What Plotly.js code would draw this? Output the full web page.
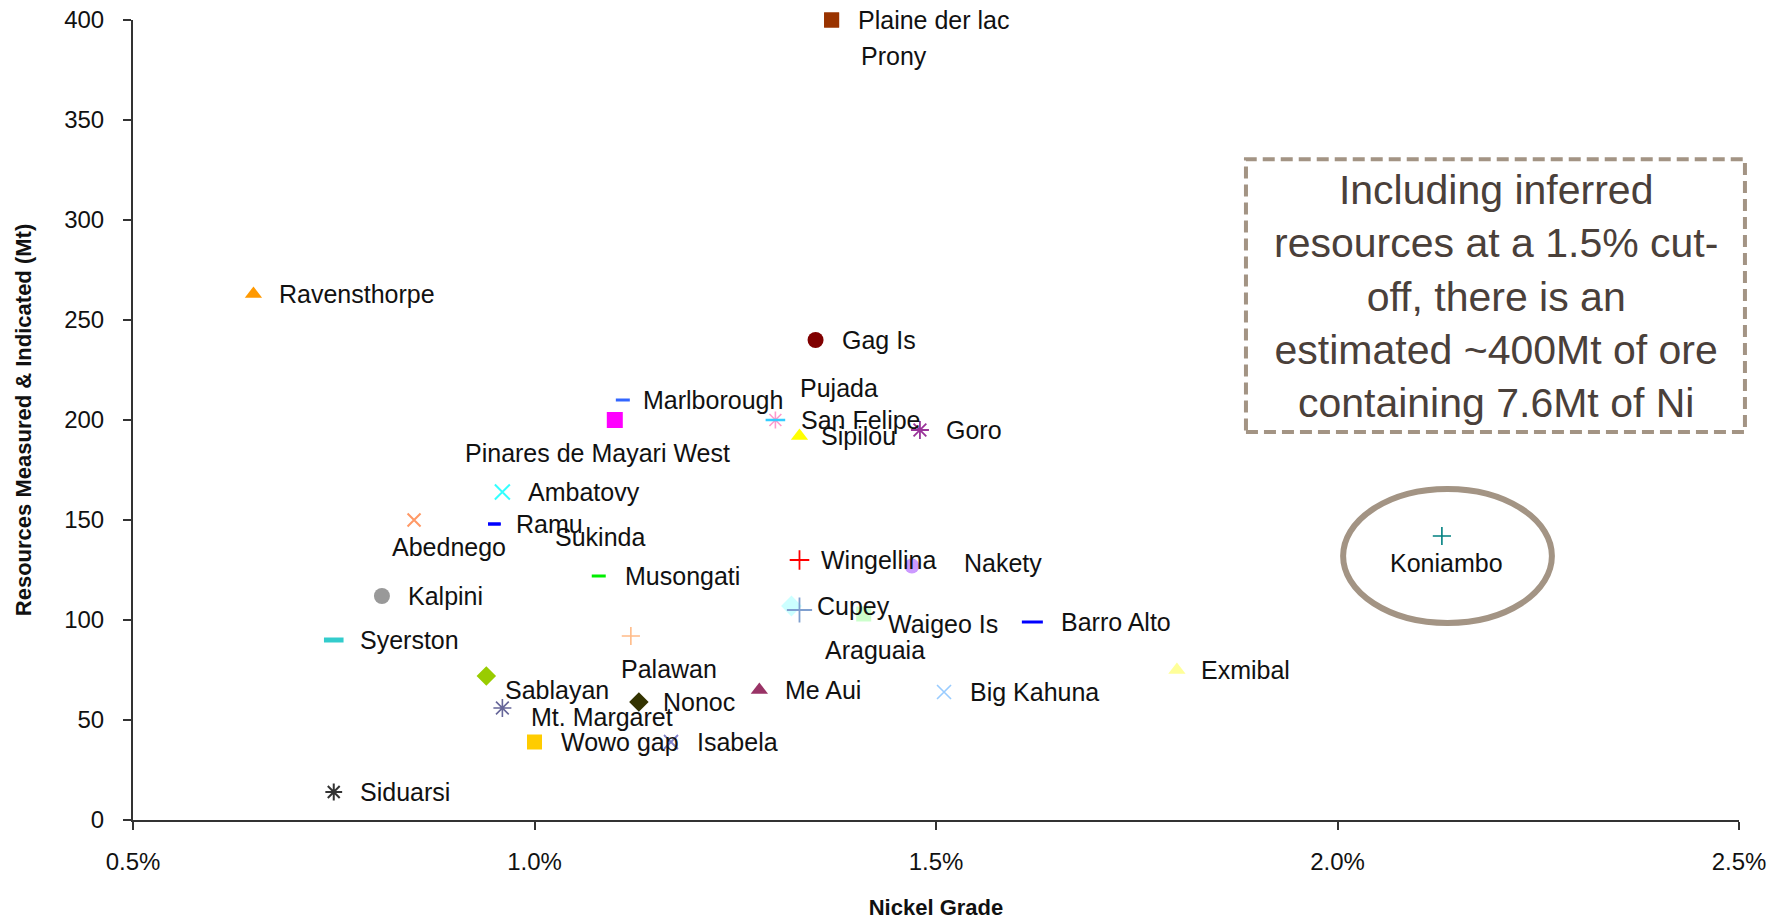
<!DOCTYPE html>
<html>
<head>
<meta charset="utf-8">
<script src="https://cdn.plot.ly/plotly-3.0.1.min.js"></script>
<style>html,body{margin:0;padding:0;background:#fff;}#chart{width:1785px;height:923px;}</style>
</head>
<body>
<div id="chart"></div>
<script>
// ---- data ----
const mines = ["Siduarsi","Syerston","Kalpini","Ravensthorpe","Abednego","Sablayan","Mt. Margaret","Ambatovy","Ramu","Sukinda","Wowo gap","Musongati","Pinares de Mayari West","Marlborough","Palawan","Nonoc","Isabela","Me Aui","San Felipe","Pujada","Cupey","Araguaia","Wingellina","Sipilou","Gag Is","Prony","Plaine der lac","Waigeo Is","Nakety","Goro","Big Kahuna","Barro Alto","Exmibal","Koniambo"];
const nickelGrade = [0.75,0.75,0.81,0.65,0.85,0.94,0.96,0.96,0.95,0.95,1.00,1.08,1.10,1.11,1.12,1.13,1.17,1.28,1.30,1.30,1.32,1.33,1.33,1.33,1.35,1.37,1.37,1.41,1.47,1.48,1.51,1.62,1.80,2.13];
const resourcesMt = [14,90,112,263,150,72,56,164,148,148,39,122,200,210,92,59,39,65,200,200,107,105,130,192,240,400,400,103,127,195,64,99,75,142];
const xTickValues = [0.5,1.0,1.5,2.0,2.5];
const xTickLabels = ["0.5%","1.0%","1.5%","2.0%","2.5%"];
const yTickValues = [0,50,100,150,200,250,300,350,400];
const noteText = "Including inferred<br>resources at a 1.5% cut-<br>off, there is an<br>estimated ~400Mt of ore<br>containing 7.6Mt of Ni";

// ---- styles (marker look and label offsets, in px) ----
const markerStyle = {
  "Siduarsi":["asterisk-open","#333333",14,2],
  "Syerston":["line-ew-open","#33CCCC",14,5],
  "Kalpini":["circle","#999999",16,0],
  "Ravensthorpe":["triangle-up","#FF9900",15,0],
  "Abednego":["x-thin-open","#FF9966",13,2],
  "Sablayan":["diamond","#99CC00",15,0],
  "Mt. Margaret":["asterisk-open","#666699",15,1.6],
  "Ambatovy":["x-thin-open","#33FFFF",15,2],
  "Ramu":["line-ew-open","#0000FF",9,3],
  "Sukinda":["line-ew-open","#0000FF",9,3],
  "Wowo gap":["square","#FFCC00",15,0],
  "Musongati":["line-ew-open","#00EE00",10,3],
  "Pinares de Mayari West":["square","#FF00FF",16,0],
  "Marlborough":["line-ew-open","#3366FF",10,3],
  "Palawan":["cross-thin-open","#FFBB88",13,1.6],
  "Nonoc":["diamond","#333300",15,0],
  "Isabela":["x-thin-open","#8080C8",14,1.8],
  "Me Aui":["triangle-up","#993366",15,0],
  "San Felipe":["asterisk-open","#FF99CC",14,1.6],
  "Pujada":["line-ew-open","#33CCFF",14,2.5],
  "Cupey":["diamond","#CCFFFF",16,0],
  "Araguaia":["cross-thin-open","#7F9FCF",18,1.8],
  "Wingellina":["cross-thin-open","#FF0000",14,1.8],
  "Sipilou":["triangle-up","#FFFF00",15,0],
  "Gag Is":["circle","#800000",16,0],
  "Prony":["square","#993300",15,0],
  "Plaine der lac":["square","#993300",15,0],
  "Waigeo Is":["square","#CCFFCC",15,0],
  "Nakety":["circle","#CC99FF",15,0],
  "Goro":["asterisk-open","#993399",15,1.8],
  "Big Kahuna":["x-thin-open","#99CCFF",14,1.6],
  "Barro Alto":["line-ew-open","#0000FF",15,3],
  "Exmibal":["triangle-up","#FFFF99",15,0],
  "Koniambo":["cross-thin-open","#008080",13,1.6]
};
// [anchor, dx, dy(down)]
const labelOffset = {
  "Prony":["left",27,36],
  "Pinares de Mayari West":["center",-17,33],
  "Pujada":["left",23,-32],
  "Abednego":["center",35,27],
  "Sukinda":["left",59,13],
  "Palawan":["center",38,33],
  "Nakety":["left",50,-3],
  "Araguaia":["center",76,40],
  "Waigeo Is":["left",22,10],
  "Koniambo":["center",5,27],
  "Sablayan":["left",17,14],
  "Mt. Margaret":["left",27,9],
  "Marlborough":["left",18,0],
  "Ramu":["left",20,0],
  "Sipilou":["left",20,0],
  "Wingellina":["left",20,0],
  "Barro Alto":["left",27,0],
  "Exmibal":["left",22,0],
  "Nonoc":["left",22,0]
};
const defaultOffset = ["left",24,0];
const labelFont = {family:"Liberation Sans, Arial, sans-serif", size:25, color:"#111111"};

const traces = [];
const annotations = [];
for (let i = 0; i < mines.length; i++) {
  const name = mines[i];
  const st = markerStyle[name];
  traces.push({
    type:"scatter", mode:"markers", name:name,
    x:[nickelGrade[i]], y:[resourcesMt[i]],
    cliponaxis:false, showlegend:false, hoverinfo:"name+x+y",
    marker:{symbol:st[0], color:st[1], size:st[2], line:{color:st[1], width:st[3]}}
  });
  const off = labelOffset[name] || defaultOffset;
  annotations.push({
    x:nickelGrade[i], y:resourcesMt[i], xref:"x", yref:"y",
    text:name, showarrow:false, xanchor:off[0], yanchor:"middle",
    xshift:off[1], yshift:-off[2], font:labelFont
  });
}
annotations.push({
  xref:"paper", yref:"paper", x:0.849, y:0.655, xanchor:"center", yanchor:"middle",
  text:noteText, showarrow:false, align:"center",
  font:{family:"Liberation Sans, Arial, sans-serif", size:41, color:"#4A403A"}
});

const axisFont = {family:"Liberation Sans, Arial, sans-serif", size:24, color:"#111111"};
const layout = {
  width:1785, height:923,
  margin:{l:133, r:46, t:20, b:103},
  paper_bgcolor:"#ffffff", plot_bgcolor:"#ffffff",
  showlegend:false,
  xaxis:{
    range:[0.5,2.5], tickmode:"array", tickvals:xTickValues, ticktext:xTickLabels,
    showgrid:false, zeroline:false, showline:true, linecolor:"#333333", linewidth:2,
    ticks:"outside", ticklen:8, tickwidth:2, tickcolor:"#333333",
    ticklabelstandoff:11, tickfont:axisFont, automargin:false,
    title:{text:"<b>Nickel Grade</b>", standoff:26,
      font:{family:"Liberation Sans, Arial, sans-serif", size:22, color:"#111111"}}
  },
  yaxis:{
    range:[0,400], tickmode:"array", tickvals:yTickValues,
    showgrid:false, zeroline:false, showline:true, linecolor:"#333333", linewidth:2,
    ticks:"outside", ticklen:8, tickwidth:2, tickcolor:"#333333",
    ticklabelstandoff:14, tickfont:axisFont, automargin:false,
    title:{text:"<b>Resources Measured &amp; Indicated (Mt)</b>", standoff:26,
      font:{family:"Liberation Sans, Arial, sans-serif", size:22, color:"#111111"}}
  },
  shapes:[
    {type:"rect", xref:"paper", yref:"paper", x0:0.693, x1:1.0037, y0:0.485, y1:0.826,
     line:{color:"#A39484", width:4, dash:"12px,6px"}, fillcolor:"rgba(0,0,0,0)"},
    {type:"circle", xref:"x", yref:"y", x0:2.007, x1:2.267, y0:98.5, y1:165.5,
     line:{color:"#A39484", width:6}, fillcolor:"rgba(0,0,0,0)"}
  ],
  annotations:annotations
};
Plotly.newPlot("chart", traces, layout, {displayModeBar:false, staticPlot:true});
</script>
</body>
</html>
